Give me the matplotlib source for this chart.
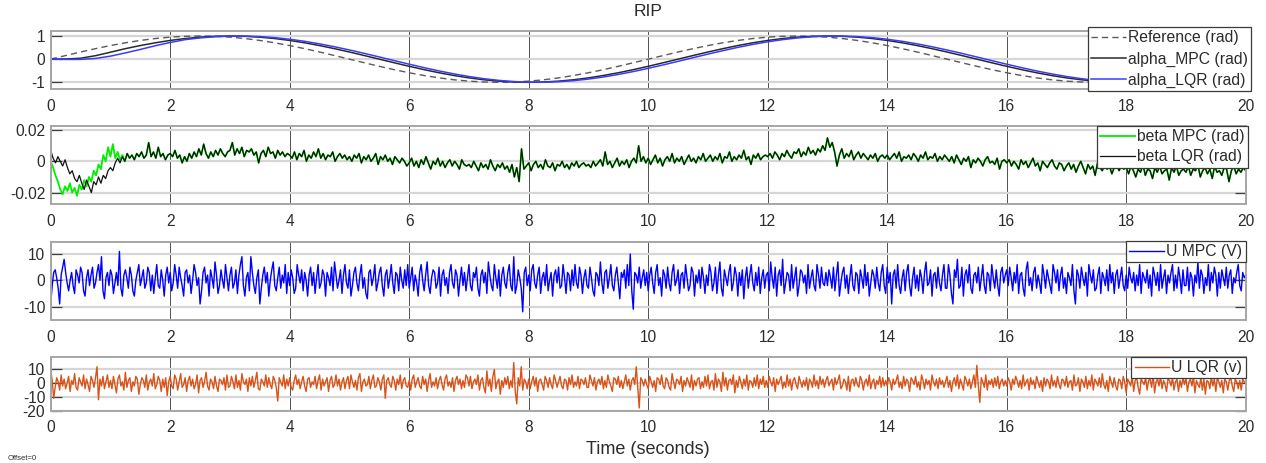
import numpy as np
import matplotlib
matplotlib.use("Agg")
import matplotlib.pyplot as plt

plt.rcParams['font.family'] = ['Liberation Sans', 'DejaVu Sans']
plt.rcParams['axes.unicode_minus'] = False

# ---------------- data ----------------
reference = [0, 0.156, 0.309, 0.454, 0.588, 0.707, 0.809, 0.891, 0.951, 0.988, 1.0, 0.988, 0.951, 0.891, 0.809,
             0.707, 0.588, 0.454, 0.309, 0.156, 0.0, -0.156, -0.309, -0.454, -0.588, -0.707, -0.809, -0.891,
             -0.951, -0.988, -1.0, -0.988, -0.951, -0.891, -0.809, -0.707, -0.588, -0.454, -0.309, -0.156,
             0.0, 0.156, 0.309, 0.454, 0.588, 0.707, 0.809, 0.891, 0.951, 0.988, 1.0, 0.988, 0.951, 0.891, 0.809,
             0.707, 0.588, 0.454, 0.309, 0.156, 0.0, -0.156, -0.309, -0.454, -0.588, -0.707, -0.809, -0.891,
             -0.951, -0.988, -1.0, -0.988, -0.951, -0.891, -0.809, -0.707, -0.588, -0.454, -0.309, -0.156, 0.0]

alpha_mpc = [0, 0.005, 0.04, 0.15, 0.30,
             0.454, 0.588, 0.707, 0.809, 0.891, 0.951, 0.988, 1.0, 0.988, 0.951, 0.891, 0.809, 0.707, 0.588,
             0.454, 0.309, 0.156,
             0.0, -0.156, -0.309, -0.454, -0.588, -0.707, -0.809, -0.891, -0.951, -0.988, -1.0, -0.988, -0.951,
             -0.891, -0.809, -0.707, -0.588, -0.454, -0.309, -0.156,
             0.0, 0.156, 0.309, 0.454, 0.588, 0.707, 0.809, 0.891, 0.951, 0.988, 1.0, 0.988, 0.951, 0.891, 0.809,
             0.707, 0.588, 0.454, 0.309, 0.156,
             0.0, -0.156, -0.309, -0.454, -0.588, -0.707, -0.809, -0.891, -0.951, -0.988, -1.0, -0.988, -0.951,
             -0.891, -0.809, -0.707, -0.588, -0.454, -0.309]

alpha_lqr = [0, -0.01, -0.01, 0.03, 0.13, 0.27, 0.42, 0.58, 0.72,
             0.844, 0.918, 0.968, 0.996, 0.998, 0.976, 0.93, 0.861, 0.771, 0.661, 0.536, 0.397, 0.249, 0.094,
             -0.063, -0.218, -0.368, -0.509, -0.637, -0.75, -0.844, -0.918, -0.968, -0.996, -0.998, -0.976,
             -0.93, -0.861, -0.771, -0.661, -0.536, -0.397, -0.249, -0.094,
             0.063, 0.218, 0.368, 0.509, 0.637, 0.75, 0.844, 0.918, 0.968, 0.996, 0.998, 0.976, 0.93, 0.861,
             0.771, 0.661, 0.536, 0.397, 0.249, 0.094,
             -0.063, -0.218, -0.368, -0.509, -0.637, -0.75, -0.844, -0.918, -0.968, -0.996, -0.998, -0.976,
             -0.93, -0.861, -0.771, -0.661, -0.536, -0.397]

# beta LQR in milli-radians, one row per second (0.04 s steps)
beta_lqr_mrad = """
7 2 -1 3 0 -3 1 -4 -8 -6 -11 -13 -9 -14 -18 -12 -16 -20 -13 -15 -10 -14 -9 -11 -6
-4 -6 -1 2 -1 3 0 5 2 4 1 5 3 6 2 4 12 3 6 2 9 3 5 1 4
5 3 7 2 4 -1 3 0 5 2 6 3 8 4 11 5 2 6 3 7 4 8 5 3 6
7 12 4 8 5 9 3 7 6 8 4 6 -1 5 7 3 9 5 6 2 7 4 6 3 5
4 2 6 1 5 3 7 0 4 2 6 3 8 2 5 1 4 3 6 0 3 5 2 4 1
3 0 4 2 5 -1 3 1 4 0 2 5 -2 3 1 4 0 2 -2 3 1 -1 2 0 -3
-1 2 -3 0 -4 1 -2 3 -1 -5 0 -2 2 -3 0 -4 -1 1 -3 0 -2 -5 1 -2 -3
-2 -4 0 -3 -6 -1 -4 -2 -5 1 -3 -6 -2 -4 -1 -5 -3 -7 -2 -10 -4 -13 8 -5 -3
-1 -6 -2 0 -4 -2 -5 1 -3 -4 -1 -6 -2 -3 0 -4 -2 -5 -1 -3 0 -4 -2 -1 -3
-2 -4 0 -3 -1 1 -3 6 -2 0 -4 -1 2 -3 0 -2 1 -4 0 2 -1 10 0 3 -1
2 -2 1 4 -1 2 -3 1 3 0 5 -1 2 0 3 -2 1 4 0 2 -1 3 1 5 0
2 4 0 3 1 5 -1 3 2 6 0 3 1 4 2 7 1 3 -2 4 2 5 1 3 4
3 5 2 6 4 1 5 3 7 4 2 6 5 8 3 6 4 9 5 7 4 8 6 10 7
15 9 12 6 -3 4 8 2 5 3 7 1 4 6 2 5 3 1 4 2 5 0 3 4 2
4 1 3 5 2 6 0 3 2 4 1 5 3 0 4 2 6 1 3 2 5 0 3 1 4
2 0 3 -1 4 1 -2 2 0 3 -4 1 -1 2 0 -3 1 3 -1 0 -2 2 -5 0 1
-1 1 -3 0 -2 -5 1 -2 0 -4 -1 2 -3 -1 -6 0 -2 -4 -1 1 -3 -5 -1 -2 -6
-3 -1 -5 -2 -7 -3 0 -4 -8 -2 -5 -3 -9 -1 -4 -6 -2 -5 -3 -8 -4 -2 -6 -3 -5
-4 -8 -3 -6 -10 -5 -7 -2 -9 -5 -6 -11 -4 -7 -3 -8 -6 -5 -12 -4 -7 -3 -9 -6 -5
-7 -3 -9 -5 -6 -2 -10 -6 -4 -8 -5 -11 -3 -7 -6 -9 -4 -5 -13 -6 -3 -8 -5 -7 -4 -6
"""

# beta MPC differs from LQR only during the first 1.2 s, then overlaps it
beta_mpc_start_mrad = """
0 -4 -9 -13 -18 -21 -16 -19 -14 -20 -17 -22 -15 -18 -12 -16 -10 -13 -6 -9 -2 -5 4 0 9
3 11 2 6 1 4
"""

# control voltages, one row per second (0.025 s steps)
u_mpc = """
-9 -2 3 4 1 -3 -9 2 5 8 3 -1 -4 0 3 -2 -5 4 2 -1 5 3 -4 -6 1 4 -2 2 5 -3 -1 3 6 0 9 -4 -7 1 3 -2
4 2 -5 -1 3 -2 11 -3 -6 2 4 1 -3 5 2 -4 -6 0 3 6 -2 1 4 -3 -1 5 3 -4 2 -5 1 6 -2 -3 4 0 -6 2 5 -1
3 -4 -1 6 2 -3 5 1 -2 -6 3 4 -1 2 -5 0 6 3 -2 1 -9 -4 3 5 -1 2 -6 4 1 -3 7 2 -5 -2 4 0 -3 6 1 -4
2 5 -3 -1 4 -5 2 6 9 -2 -6 1 3 -4 9 3 -2 -5 1 4 -9 -3 2 5 -1 3 -6 0 4 7 -2 -4 1 5 -3 2 -1 6 -5 3
-2 4 1 -5 -3 6 2 -1 4 -4 3 0 -6 2 5 -2 3 -5 1 6 -3 -1 4 2 -6 3 1 -2 5 -4 7 2 -3 0 4 -5 2 6 -1 -3
4 -6 -2 3 5 -1 -4 2 6 -3 1 -5 -7 3 4 -2 1 6 -4 -1 3 5 -2 -6 2 4 -3 1 6 -1 -5 3 2 -4 5 0 -3 4 -2 6
-3 1 5 -4 2 -1 -6 3 6 0 -4 2 7 -2 -5 1 4 3 -3 -1 5 -6 2 4 -2 1 -5 3 6 -1 -3 4 2 -6 0 5 -2 3 -4 1
6 -2 -4 3 1 5 -3 -6 2 4 -1 3 -5 7 2 -2 -4 6 1 -3 4 -6 2 5 -1 -3 3 6 -2 -4 9 -5 -2 4 1 -3 -12 3 5 -2
2 -4 4 6 -1 -3 2 5 -5 1 3 -2 6 -4 0 3 -6 2 4 -1 5 -3 -2 6 1 -5 3 2 -4 4 -2 6 -1 -3 5 2 -5 1 4 -2
-3 5 1 -4 -6 3 2 -2 7 -1 -5 3 4 -3 1 6 -2 -4 2 5 -1 -7 3 1 4 -3 6 -2 10 -4 -11 3 2 -1 5 -3 1 4 -2 3
-4 2 5 -1 -5 3 6 -2 1 -6 4 2 -3 5 -1 -4 3 6 -2 0 4 -5 2 3 -3 6 1 -4 -2 5 3 -6 2 -1 4 -3 5 1 -5 2
-2 6 3 -4 -1 5 -5 2 7 -3 -6 4 1 -2 3 6 -4 -1 5 2 -6 3 -2 4 -7 1 5 -3 2 6 -1 -4 3 -2 5 -5 1 4 -3 2
3 -4 7 1 -3 5 -6 2 4 -2 8 -5 -1 3 2 -4 6 -3 1 5 -6 -2 4 3 -1 2 -5 6 -3 1 4 -2 -4 6 2 -3 5 -1 -2 3
-2 4 1 -3 5 -4 2 7 -6 -1 3 5 -3 2 -5 1 6 -2 -4 3 2 -5 4 1 -3 6 -2 3 -6 -1 4 2 -3 5 -1 -4 3 6 -2 -5
5 -1 3 -9 2 4 -3 6 -2 -5 1 4 -4 3 6 -2 -6 1 5 -3 2 -4 4 1 -5 3 7 -2 -1 4 -6 2 3 -3 5 -1 -4 2 6 -3
-3 6 2 -5 -9 4 1 8 -3 -2 5 -6 2 4 -1 6 -3 -5 2 3 -1 5 -4 1 6 -2 -5 3 2 -4 6 1 -3 4 -2 -6 3 5 -1 2
4 -2 5 1 -4 3 -1 6 -5 2 3 -3 -6 4 7 -2 1 -4 3 5 -3 2 -1 -5 6 2 -3 4 1 -2 -5 6 3 -1 4 -4 2 5 -3 1
-5 3 1 -2 6 -4 -9 4 2 -3 5 1 -2 3 -6 6 2 -1 4 -4 -3 2 5 -5 3 1 -2 4 -4 6 -1 3 -5 2 4 -3 1 5 -2 -4
2 -3 5 1 -1 3 -4 2 -2 6 -5 3 1 -1 4 -3 2 -6 5 2 -2 3 -4 6 -3 1 4 -5 2 -1 3 6 -4 2 -3 5 1 -5 4 -2
-2 5 -4 3 1 -6 2 -1 7 -3 4 2 -5 1 -2 6 -4 3 -1 5 2 -6 3 -3 4 1 -2 5 -3 2 4 -5 1 -1 3 6 -2 -4 3 1
2
"""

u_lqr = """
10 2 -11 -3 4 1 -5 6 -2 3 -4 0 5 -6 2 -1 7 -3 -5 4 1 -2 6 -4 3 -1 -6 5 2 -3 4 12 -12 3 -2 5 -4 1 6 -3
2 -4 5 -1 -7 3 6 -2 1 -5 8 -3 2 4 -6 1 -2 5 3 -8 -1 4 2 -3 6 -5 1 3 -2 7 -4 -1 5 2 -6 3 -3 4 -9 1
5 -2 -4 6 3 -5 1 7 -3 -1 4 -6 2 5 -2 3 -4 -1 6 -7 2 4 -3 1 8 -2 -5 3 1 -4 5 -2 -6 3 2 -1 4 -5 6 -3
-2 5 1 -4 6 -3 2 -5 7 1 -1 3 -6 4 -2 5 -3 2 8 -4 -5 3 1 -2 6 -3 4 -1 -4 5 2 -3 -13 4 1 -2 6 -4 3 -2
4 -3 -5 2 6 -1 3 -4 1 5 -2 -6 3 4 -3 1 -1 5 -4 2 6 -5 3 -2 1 4 -6 2 5 -3 -1 6 -2 3 -5 1 4 -4 2 5
-4 6 1 -3 2 -5 4 7 -6 1 3 -2 -1 5 -4 2 6 -3 -2 4 1 -5 3 6 -11 2 4 -1 -3 5 2 -5 3 -1 6 -4 2 4 -2 -3
2 -5 3 6 -3 1 4 -2 -4 5 -1 3 -6 2 7 -3 1 -2 4 -4 2 5 -1 -5 3 6 -2 1 -3 4 -6 2 5 -1 3 -4 2 -3 6 4
-2 5 -4 1 3 -1 6 -5 2 4 -3 -7 9 -2 3 -6 5 10 -4 1 3 -8 2 -3 4 -1 5 -4 2 -3 15 -6 -15 4 -2 12 -5 3 1 -4
3 -4 1 5 -2 4 -6 2 3 -1 -5 5 2 -3 4 -1 -4 6 2 -3 1 5 -2 -4 3 2 -5 4 -1 6 -3 1 -2 5 -4 3 2 -1 4 -3
-3 6 2 -2 4 -5 1 3 -1 5 -4 2 -3 6 1 -2 -6 4 3 -1 5 -3 2 -4 1 6 -2 3 -5 2 4 -1 12 -3 -18 4 2 -2 3 -1
-4 5 1 -3 2 -6 4 3 -1 6 -2 -4 4 2 -3 -5 7 1 -4 3 2 -1 5 -6 2 -2 4 1 -3 6 -5 2 -2 3 4 -4 1 -3 5 -2
6 -4 1 2 -5 7 -3 3 1 -6 8 -2 4 -5 2 3 -1 6 -7 2 -3 5 1 -4 3 -2 6 -5 2 1 -3 4 -2 6 -4 3 -1 5 -3 2
-3 5 1 -2 4 -6 3 -1 2 5 -4 1 -3 6 -2 3 -5 2 4 -1 -4 5 1 -3 2 -2 4 -5 3 1 -3 6 -2 2 -4 5 -1 3 -3 2
5 -2 1 3 -5 4 -1 2 6 -4 -2 3 1 -5 5 -6 2 3 -2 4 -1 -3 5 2 -5 1 3 -2 6 -4 1 3 -4 2 -1 5 -3 4 -2 2
-2 4 1 -5 3 -1 2 6 -3 1 -4 5 -2 3 1 -6 4 2 -1 5 -3 1 -5 6 2 -4 3 -1 2 -5 6 1 -2 3 -4 4 -1 2 -3 1
5 -3 2 -6 1 4 -2 6 -4 3 -1 -5 5 2 -2 3 -4 1 6 -3 13 -2 -14 4 1 -3 6 -5 2 -1 3 -3 4 -2 5 -4 1 3 -2 2
-2 4 1 -5 3 -1 5 2 -3 2 -4 6 -2 1 3 -5 4 -1 2 -4 5 1 -3 2 -6 4 -2 3 1 -4 6 -2 2 -3 5 -1 -4 3 2 -2
5 -3 1 2 -5 6 -2 -1 4 -6 3 1 -3 5 -4 2 -2 6 -5 3 1 -2 4 -3 7 -1 -4 2 -6 5 1 -3 4 -2 -5 3 2 -4 5 1
-7 3 1 -2 5 -6 2 4 -3 -8 3 1 -1 4 -5 2 3 -3 6 -7 1 3 -2 5 -4 2 -1 -6 3 2 -2 4 -5 1 3 -6 2 -3 4 -1
4 -6 1 3 -2 5 -7 2 -1 -3 4 -5 3 -8 2 1 -4 5 -2 3 -6 4 1 -3 2 -7 3 1 -5 2 4 -2 -6 3 1 -4 2 -5 3 1
0
"""

x_ticks = [0, 2, 4, 6, 8, 10, 12, 14, 16, 18, 20]


def parse(s):
    return np.array(s.split(), dtype=float)


beta_lqr = parse(beta_lqr_mrad) / 1000.0
beta_mpc_start = parse(beta_mpc_start_mrad) / 1000.0
beta_mpc = np.concatenate([beta_mpc_start, beta_lqr[len(beta_mpc_start):]])
u_mpc_v = parse(u_mpc)
u_lqr_v = parse(u_lqr)


def tgrid(arr):
    return np.linspace(0, 20, len(arr))


# ---------------- figure ----------------
W, H = 1266, 463
fig = plt.figure(figsize=(W / 100, H / 100), dpi=100)
fig.patch.set_facecolor('white')


def axes_px(top, bottom, left=50.7, right=1245.7):
    return fig.add_axes([left / W, 1 - bottom / H, (right - left) / W, (bottom - top) / H])


ax1 = axes_px(30.7, 89.0)
ax2 = axes_px(126.0, 204.0)
ax3 = axes_px(241.7, 320.0)
ax4 = axes_px(356.7, 410.7)

TXT = '#2b2b2b'
for ax in (ax1, ax2, ax3, ax4):
    ax.set_xlim(0, 20)
    ax.set_xticks(x_ticks)
    ax.set_xticklabels([str(v) for v in x_ticks])
    ax.grid(axis='y', color='#d6d6d6', linewidth=1.6, zorder=0)
    ax.grid(axis='x', color='#505050', linewidth=0.7, zorder=0)
    ax.set_axisbelow(True)
    for sp in ax.spines.values():
        sp.set_color('#a6a6a6')
        sp.set_linewidth(1.4)
    ax.tick_params(axis='y', direction='in', length=8, width=0.9, color='#404040',
                   left=True, right=True, labelsize=11.2, labelcolor=TXT, pad=4)
    ax.tick_params(axis='x', direction='in', length=0, labelsize=11.2, labelcolor=TXT, pad=7)

# panel 1
ax1.plot(tgrid(reference), reference, color='#5a5a5a', lw=1.0, dashes=(4.5, 3), label='Reference (rad)')
ax1.plot(tgrid(alpha_mpc), alpha_mpc, color='#2a2a2a', lw=1.1, label='alpha_MPC (rad)')
ax1.plot(tgrid(alpha_lqr), alpha_lqr, color='#3b3bff', lw=1.1, label='alpha_LQR (rad)')
ax1.set_ylim(-1.29, 1.23)
ax1.set_yticks([-1, 0, 1])

# panel 2
ax2.plot(tgrid(beta_mpc), beta_mpc, color='#00ee00', lw=1.3, label='beta MPC (rad)')
ax2.plot(tgrid(beta_lqr), beta_lqr, color='#111111', lw=0.9, label='beta LQR (rad)')
ax2.set_ylim(-0.0273, 0.0226)
ax2.set_yticks([-0.02, 0, 0.02])
ax2.set_yticklabels(['-0.02', '0', '0.02'])

# panel 3
ax3.plot(tgrid(u_mpc_v), u_mpc_v, color='#0000ff', lw=1.0, label='U MPC (V)')
ax3.set_ylim(-15.1, 14.7)
ax3.set_yticks([-10, 0, 10])

# panel 4
ax4.plot(tgrid(u_lqr_v), u_lqr_v, color='#d95319', lw=1.0, label='U LQR (v)')
ax4.set_ylim(-20, 19.3)
ax4.set_yticks([-20, -10, 0, 10])


def legend(ax, x_right, y_top, spacing):
    lg = ax.legend(loc='upper right', bbox_to_anchor=(x_right / W, 1 - y_top / H),
                   bbox_transform=fig.transFigure, fontsize=11.3, frameon=True, fancybox=False,
                   framealpha=1.0, edgecolor='#3a3a3a', borderaxespad=0, borderpad=0.2,
                   handlelength=2.2, handletextpad=0.15, labelspacing=spacing, labelcolor=TXT)
    lg.get_frame().set_linewidth(0.9)
    lg.set_zorder(10)
    return lg


legend(ax1, 1251, 27, 0.4)
legend(ax2, 1248, 126, 0.34)
legend(ax3, 1245.5, 241, 0.3)
legend(ax4, 1245.5, 357, 0.3)

fig.text(648 / W, 1 - 12 / H, 'RIP', ha='center', va='center', fontsize=12.5, color=TXT)
fig.text(648 / W, 1 - 450 / H, 'Time (seconds)', ha='center', va='center', fontsize=13, color=TXT)
fig.text(8 / W, 1 - 459 / H, 'Offset=0', ha='left', va='center', fontsize=5.5, color=TXT)

fig.savefig('out.png', dpi=100, facecolor='white')
